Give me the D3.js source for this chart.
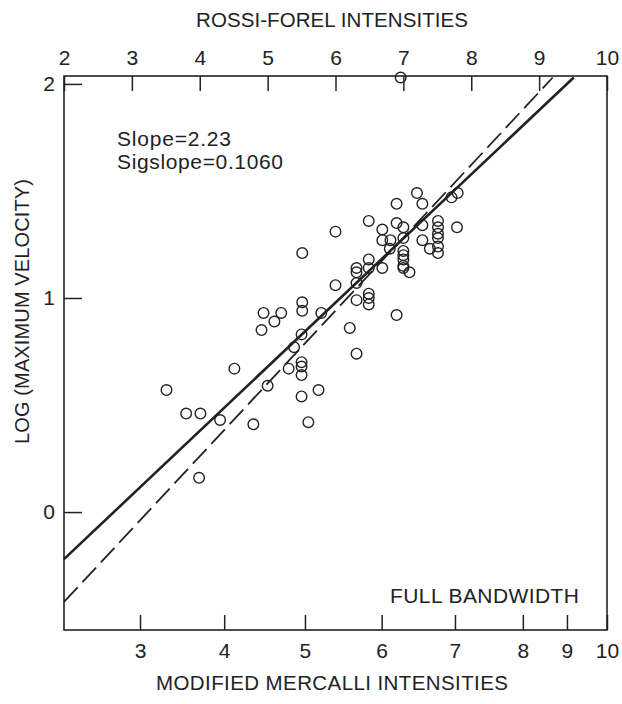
<!DOCTYPE html>
<html>
<head>
<meta charset="utf-8">
<style>
  body { margin: 0; background: #fff; }
  text { font-family: "Liberation Sans", Arial, sans-serif; fill: #222; }
</style>
</head>
<body>
<script src="https://cdn.jsdelivr.net/npm/d3@7"></script>
<script>

  const margin = {left: 64, top: 76, right: 15, bottom: 74}

  const width = 622 - margin.left - margin.right,
        height = 704 - margin.top - margin.bottom,
        ink = '#222'

  // Rossi-Forel intensity of each point (top axis, linear)
  const rfIntensity = [
    3.99, 3.51, 3.80, 4.01, 4.30, 4.51, 4.79, 5.00, 5.31,
    5.50, 5.50, 5.50, 5.50, 5.75, 5.60, 5.39, 5.50, 5.79,
    5.51, 5.51, 6.00, 4.94, 5.20, 5.10, 4.91, 5.51, 6.00,
    6.21, 6.31, 6.31, 6.31, 6.31, 6.31, 6.49, 6.49, 6.49,
    6.49, 6.49, 6.69, 6.90, 6.49, 6.69, 6.90, 7.00, 7.28,
    7.51, 7.51, 7.51, 7.51, 7.51, 7.51, 7.79, 6.69, 6.81,
    6.80, 7.28, 7.39, 7.00, 7.00, 7.00, 7.00, 7.00, 7.00,
    7.09, 7.20, 7.28, 6.90, 7.80, 7.71, 6.96
  ]
  // log of maximum velocity
  const logVelocity = [
    0.16, 0.57, 0.46, 0.46, 0.43, 0.67, 0.41, 0.59, 0.67,
    0.70, 0.68, 0.64, 0.54, 0.57, 0.42, 0.77, 0.83, 0.93,
    0.98, 0.94, 1.06, 0.93, 0.93, 0.89, 0.85, 1.21, 1.31,
    0.86, 0.74, 1.14, 1.12, 1.07, 0.99, 1.18, 1.14, 1.02,
    1.00, 0.97, 1.14, 0.92, 1.36, 1.32, 1.35, 1.33, 1.34,
    1.36, 1.33, 1.30, 1.28, 1.24, 1.21, 1.33, 1.27, 1.27,
    1.23, 1.27, 1.23, 1.28, 1.22, 1.20, 1.18, 1.15, 1.14,
    1.12, 1.49, 1.44, 1.44, 1.49, 1.47, 2.03
  ]

  // axis ticks
  const rfTicks = [2, 3, 4, 5, 6, 7, 8, 9, 10]
  const mmTicks = [3, 4, 5, 6, 7, 8, 9, 10]
  // where each Modified Mercalli tick falls on the Rossi-Forel scale
  const mmAsRf = [3.12, 4.36, 5.55, 6.68, 7.76, 8.76, 9.41, 10]
  const yTicks = [0, 1, 2]

  // fitted lines, as end points [RF, log V]
  const solidFit = [[2.0, -0.22], [9.51, 2.03]]
  const dashedFit = [[2.0, -0.42], [9.20, 2.03]]

  const xScale = d3.scaleLinear()
    .domain([2, 10])
    .range([0, width]);
  const mmScale = d3.scaleLinear()
    .domain(mmTicks)
    .range(mmAsRf.map(d => xScale(d)));
  const yScale = d3.scaleLinear()
    .domain([-0.551, 2.037])
    .range([height, 0]);

  const svg = d3.select("body").append("svg")
      .attr("width", 622)
      .attr("height", 704)

  const g = svg.append("g")
      .attr("transform", `translate(${margin.left}, ${margin.top})`)

  // frame
  g.append("rect")
      .attr("width", width)
      .attr("height", height)
      .style("fill", "none")
      .style("stroke", ink)
      .style("stroke-width", 1.6)

  const gTop = g.append("g")
      .call(d3.axisTop(xScale).tickValues(rfTicks).tickSize(-15).tickPadding(11).tickFormat(d3.format("d")))
  const gBottom = g.append("g")
      .attr("transform", `translate(0, ${height})`)
      .call(d3.axisBottom(mmScale).tickValues(mmTicks).tickSize(-15).tickPadding(13).tickFormat(d3.format("d")))
  const gLeft = g.append("g")
      .call(d3.axisLeft(yScale).tickValues(yTicks).tickSize(-18).tickPadding(9).tickFormat(d3.format("d")))

  ;[gTop, gBottom, gLeft].forEach(a => {
    a.select(".domain").remove()
    a.selectAll(".tick line").style("stroke", ink).style("stroke-width", 1.5)
    a.selectAll(".tick text")
        .style("font-family", '"Liberation Sans", Arial, sans-serif')
        .style("font-size", "21px")
        .style("fill", ink)
  })

  // fitted lines
  const line = d3.line()
    .x(d => xScale(d[0]))
    .y(d => yScale(d[1]))

  g.append("path")
      .datum(solidFit)
      .attr("d", line)
      .style("fill", "none")
      .style("stroke", ink)
      .style("stroke-width", 2.6)

  g.append("path")
      .datum(dashedFit)
      .attr("d", line)
      .style("fill", "none")
      .style("stroke", ink)
      .style("stroke-width", 1.8)
      .style("stroke-dasharray", "20,7")

  // observations
  g.selectAll("circle.obs")
      .data(rfIntensity.map((d, i) => ({x: d, y: logVelocity[i]})))
      .enter()
      .append("circle")
        .attr("class", "obs")
        .attr("cx", d => xScale(d.x))
        .attr("cy", d => yScale(d.y))
        .attr("r", 5.3)
        .style("fill", "none")
        .style("stroke", ink)
        .style("stroke-width", 1.4)

  // annotations
  g.append("text")
      .attr("x", 53)
      .attr("y", 70)
      .attr("textLength", 114)
      .style("font-size", "21px")
      .text("Slope=2.23")
  g.append("text")
      .attr("x", 53)
      .attr("y", 93)
      .attr("textLength", 166)
      .style("font-size", "21px")
      .text("Sigslope=0.1060")
  g.append("text")
      .attr("x", 326)
      .attr("y", 527)
      .attr("textLength", 189)
      .style("font-size", "21px")
      .text("FULL BANDWIDTH")

  // axis titles
  svg.append("text")
      .attr("x", 196)
      .attr("y", 27)
      .attr("textLength", 272)
      .style("font-size", "20.5px")
      .text("ROSSI-FOREL INTENSITIES")
  svg.append("text")
      .attr("x", 156)
      .attr("y", 690)
      .attr("textLength", 352)
      .style("font-size", "20.5px")
      .text("MODIFIED MERCALLI INTENSITIES")
  svg.append("text")
      .attr("transform", "translate(29, 444) rotate(-90)")
      .attr("textLength", 265)
      .style("font-size", "20px")
      .text("LOG (MAXIMUM VELOCITY)")

</script>
</body>
</html>
